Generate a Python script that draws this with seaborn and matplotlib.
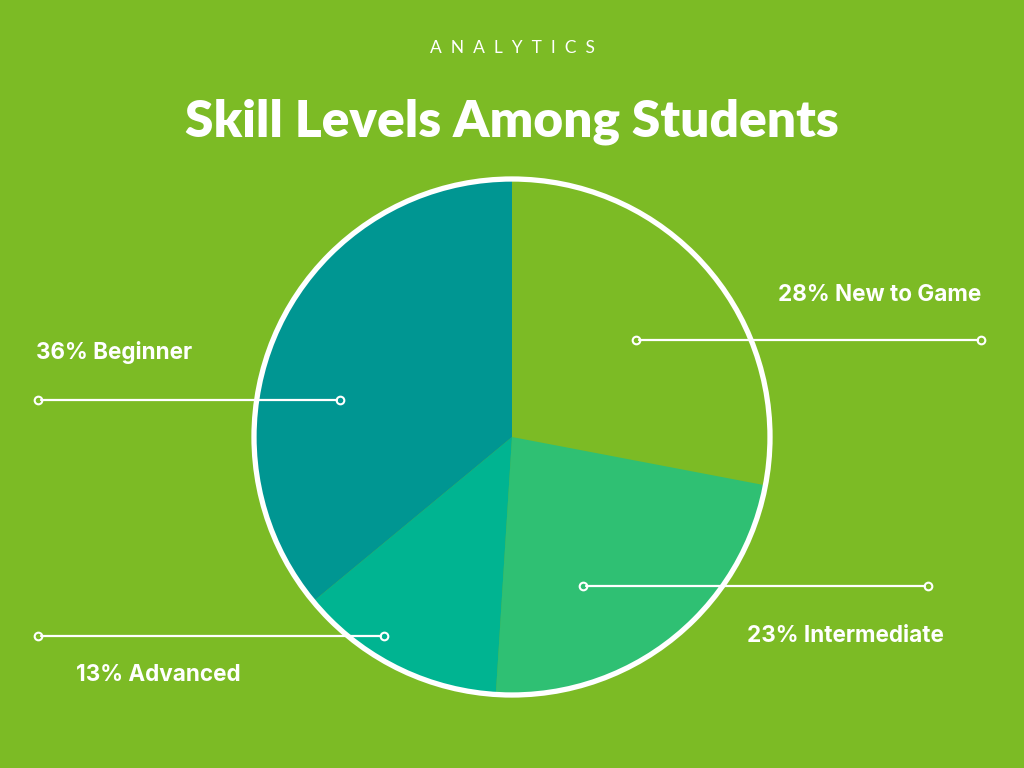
import matplotlib
matplotlib.use('Agg')
import matplotlib.pyplot as plt
import seaborn as sns

# data
skill_levels = ['New to Game', 'Intermediate', 'Advanced', 'Beginner']
shares = [28, 23, 13, 36]
slice_colors = ['#7cbb25', '#2fc073', '#00b491', '#009692']

bg = '#7cbb25'

sns.set_theme(style='white')
plt.rcParams['font.family'] = ['Inter', 'DejaVu Sans']

fig = plt.figure(figsize=(10.24, 7.68), dpi=100, facecolor=bg)
ax = fig.add_axes([0, 0, 1, 1])
ax.set_facecolor(bg)

H = 768
cx, cy, r = 512, H - 437, 258

ax.pie(shares, colors=slice_colors, startangle=90, counterclock=False,
       center=(cx, cy), radius=r, wedgeprops=dict(linewidth=0), frame=True)
ax.set_xlim(0, 1024)
ax.set_ylim(0, 768)
ax.set_aspect('equal')
ax.axis('off')
ax.add_patch(plt.Circle((cx, cy), r, fill=False, edgecolor='white', lw=3.8, zorder=5))

# leader lines: (x0, x1, y) and label (x, y, ha) in pixel layout
leaders = {
    'New to Game': ((636, 981, 340), (981, 295, 'right')),
    'Intermediate': ((583, 928, 586), (944, 636, 'right')),
    'Advanced': ((38, 384, 636), (76, 675, 'left')),
    'Beginner': ((38, 340, 400), (36, 353, 'left')),
}
for name, val in zip(skill_levels, shares):
    (x0, x1, y), (tx, ty, ha) = leaders[name]
    ax.plot([x0 + 3, x1 - 3], [H - y, H - y], color='white', lw=1.6, zorder=6)
    ax.plot([x0, x1], [H - y, H - y], ls='none', zorder=6,
            marker='o', markersize=5.5, markerfacecolor='none',
            markeredgecolor='white', markeredgewidth=1.5)
    ax.text(tx, H - ty, f'{val}% {name}', color='white', fontsize=16.2,
            fontweight='bold', ha=ha, va='center', zorder=7)

ax.text(512, H - 48, '  '.join('ANALYTICS'), color='white', fontsize=12.5,
        fontfamily=['Lato', 'DejaVu Sans'], ha='center', va='center')
ax.text(512, H - 122, 'Skill Levels Among Students', color='white',
        fontsize=37, fontweight='heavy', fontfamily=['Lato', 'DejaVu Sans'],
        ha='center', va='center')

fig.savefig('out.png', dpi=100, facecolor=bg)
